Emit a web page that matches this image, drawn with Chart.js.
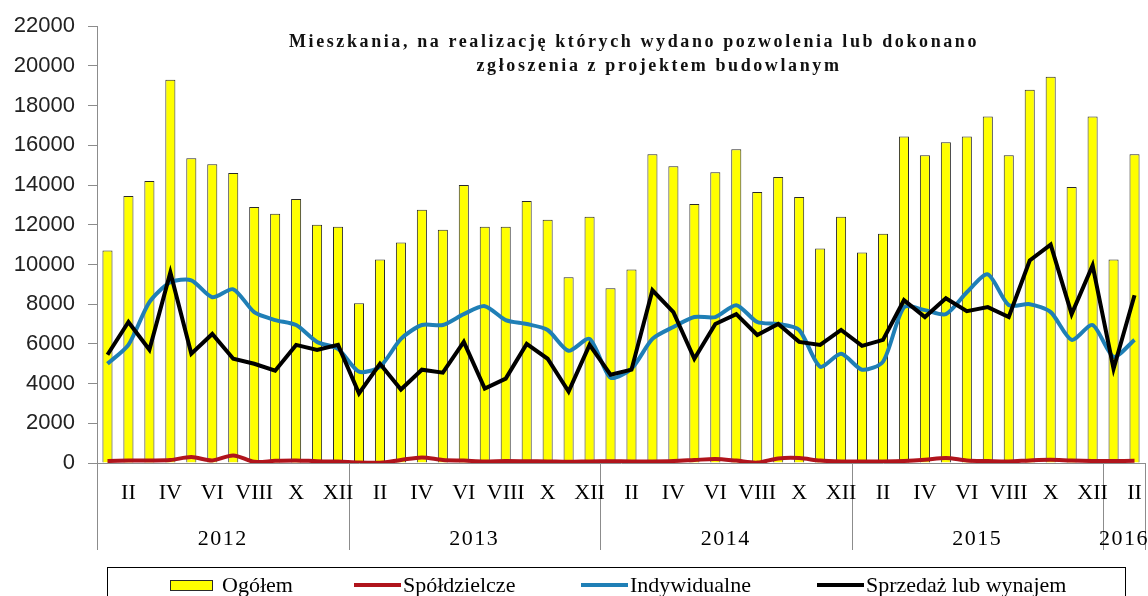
<!DOCTYPE html>
<html>
<head>
<meta charset="utf-8">
<script src="https://cdn.jsdelivr.net/npm/chart.js@4.4.1/dist/chart.umd.min.js"></script>
<style>
  html, body { margin: 0; padding: 0; background: #fff; }
</style>
</head>
<body>
<canvas id="myChart" width="1148" height="596"></canvas>
<script>
// dane (styczen 2012 - luty 2016)
const lata = ['2012', '2013', '2014', '2015', '2016'];
const miesiaceWRoku = [12, 12, 12, 12, 2];
const miesiace = ['I', 'II', 'III', 'IV', 'V', 'VI', 'VII', 'VIII', 'IX', 'X', 'XI', 'XII'];

const ogolem = [10700, 13450, 14200, 19300, 15350, 15050, 14600, 12900, 12550, 13300, 12000, 11900,
    8050, 10250, 11100, 12750, 11750, 14000, 11900, 11900, 13200, 12250, 9350, 12400,
    8800, 9750, 15550, 14950, 13050, 14650, 15800, 13650, 14400, 13400, 10800, 12400,
    10600, 11550, 16450, 15500, 16150, 16450, 17450, 15500, 18800, 19450, 13900, 17450,
    10250, 15550];

const spoldzielcze = [100, 120, 130, 150, 300, 130, 380, 60, 110, 130, 90, 70,
    20, 10, 150, 280, 150, 120, 80, 100, 90, 80, 60, 80,
    90, 80, 80, 100, 150, 200, 120, 20, 230, 250, 120, 80,
    80, 80, 100, 160, 250, 130, 100, 80, 130, 160, 120, 100,
    100, 110];

const indywidualne = [5000, 5950, 8100, 9100, 9200, 8350, 8750, 7600, 7200, 6950, 6100, 5750,
    4600, 4850, 6250, 6950, 6950, 7500, 7900, 7200, 7000, 6700, 5650, 6250,
    4300, 4750, 6250, 6850, 7350, 7350, 7950, 7100, 7000, 6700, 4850, 5500,
    4700, 5100, 7850, 7700, 7500, 8600, 9500, 7950, 8000, 7600, 6200, 6950,
    5350, 6200];

const sprzedaz = [5450, 7100, 5700, 9600, 5500, 6500, 5250, 5000, 4650, 5950, 5700, 5950,
    3500, 5000, 3700, 4700, 4550, 6100, 3750, 4250, 6000, 5250, 3600, 5950,
    4450, 4700, 8700, 7600, 5250, 7000, 7500, 6450, 7000, 6100, 5950, 6700,
    5900, 6200, 8200, 7350, 8300, 7650, 7850, 7350, 10200, 11000, 7500, 9950,
    4750, 8450];

const tytulLinie = ['Mieszkania, na realizację których wydano pozwolenia lub dokonano',
    'zgłoszenia z projektem budowlanym'];

let etykiety = [];
for (let r = 0; r < lata.length; r++) {
    for (let m = 0; m < miesiaceWRoku[r]; m++) {
        etykiety.push(miesiace[m]);
    }
}

// tytul w srodku obszaru wykresu
const tytul = {
    id: 'tytul',
    afterDraw(chart) {
        const ctx = chart.ctx;
        ctx.save();
        ctx.font = 'bold 18px "Liberation Serif"';
        ctx.letterSpacing = '2.6px';
        ctx.fillStyle = '#111';
        ctx.textAlign = 'center';
        ctx.fillText(tytulLinie[0], 634, 47);
        ctx.fillText(tytulLinie[1], 659, 71);
        ctx.restore();
    }
};

// os kategorii: miesiace (co drugi), lata i pionowe kreski
const lataOs = {
    id: 'lataOs',
    afterDraw(chart) {
        const x = chart.scales.x;
        const ctx = chart.ctx;
        const krok = x.width / etykiety.length;
        const dol = chart.chartArea.bottom;
        let granice = [0];
        let idx = 0;
        miesiaceWRoku.forEach(n => { idx += n; granice.push(idx); });

        ctx.save();
        ctx.strokeStyle = '#8c8c8c';
        ctx.lineWidth = 1;
        granice.forEach(g => {
            const px = Math.round(x.left + g * krok) + 0.5;
            ctx.beginPath();
            ctx.moveTo(px, dol);
            ctx.lineTo(px, dol + 87);
            ctx.stroke();
        });
        ctx.font = '22px "Liberation Serif"';
        ctx.fillStyle = '#000';
        ctx.textAlign = 'center';
        for (let i = 1; i < etykiety.length; i += 2) {
            ctx.fillText(etykiety[i], x.getPixelForValue(i), dol + 36);
        }
        ctx.letterSpacing = '1.5px';
        for (let i = 0; i < lata.length; i++) {
            const sx = x.left + (granice[i] + granice[i + 1]) / 2 * krok;
            ctx.fillText(lata[i], sx, dol + 82);
        }
        ctx.restore();
    }
};

// legenda w ramce na dole
const legenda = {
    id: 'legenda',
    afterDraw(chart) {
        const ctx = chart.ctx;
        const ds = chart.data.datasets;
        const pozycje = [170, 354, 581, 817];
        const y = 585;
        ctx.save();
        ctx.strokeStyle = '#000';
        ctx.lineWidth = 1;
        ctx.strokeRect(107.5, 567.5, 1018, 40);
        ctx.font = '22px "Liberation Serif"';
        ctx.fillStyle = '#000';
        for (let i = 0; i < ds.length; i++) {
            const px = pozycje[i];
            let tx;
            if (ds[i].type === 'bar') {
                ctx.fillStyle = ds[i].backgroundColor;
                ctx.fillRect(px, y - 5, 42, 10);
                ctx.strokeStyle = ds[i].borderColor;
                ctx.lineWidth = 1;
                ctx.strokeRect(px + 0.5, y - 4.5, 42, 10);
                tx = px + 52;
            } else {
                ctx.strokeStyle = ds[i].borderColor;
                ctx.lineWidth = 4;
                ctx.beginPath();
                ctx.moveTo(px, y);
                ctx.lineTo(px + 47, y);
                ctx.stroke();
                tx = px + 49;
            }
            ctx.fillStyle = '#000';
            ctx.fillText(ds[i].label, tx, 592);
        }
        ctx.restore();
    }
};

new Chart('myChart', {
    type: 'bar',
    data: {
        labels: etykiety,
        datasets: [
            {
                type: 'bar', label: 'Ogółem', data: ogolem,
                backgroundColor: '#ffff00', borderColor: '#2a2a2a', borderWidth: 1,
                barPercentage: 0.48, categoryPercentage: 1, order: 5
            },
            {
                type: 'line', label: 'Spółdzielcze', data: spoldzielcze,
                borderColor: '#b0141c', borderWidth: 4, pointRadius: 0, tension: 0.3, order: 3
            },
            {
                type: 'line', label: 'Indywidualne', data: indywidualne,
                borderColor: '#1f7fb6', borderWidth: 4, pointRadius: 0, tension: 0.25, order: 2
            },
            {
                type: 'line', label: 'Sprzedaż lub wynajem', data: sprzedaz,
                borderColor: '#000', borderWidth: 4, pointRadius: 0, tension: 0, order: 1
            }
        ]
    },
    options: {
        responsive: false,
        animation: false,
        layout: { padding: { top: 21, right: 3, left: 0, bottom: 0 } },
        plugins: {
            legend: { display: false },
            tooltip: { enabled: false },
            title: { display: false }
        },
        scales: {
            x: {
                grid: { display: false },
                border: { color: '#8c8c8c' },
                ticks: { display: false },
                afterFit: s => { s.height = 133; }
            },
            y: {
                min: 0, max: 22000,
                ticks: {
                    stepSize: 2000, padding: 13, color: '#222',
                    font: { family: 'Liberation Sans', size: 22 },
                    callback: v => String(v)
                },
                grid: { drawOnChartArea: false, tickLength: 9, color: '#8c8c8c' },
                border: { color: '#8c8c8c' },
                afterFit: s => { s.width = 97; }
            }
        }
    },
    plugins: [tytul, lataOs, legenda]
});
</script>
</body>
</html>
